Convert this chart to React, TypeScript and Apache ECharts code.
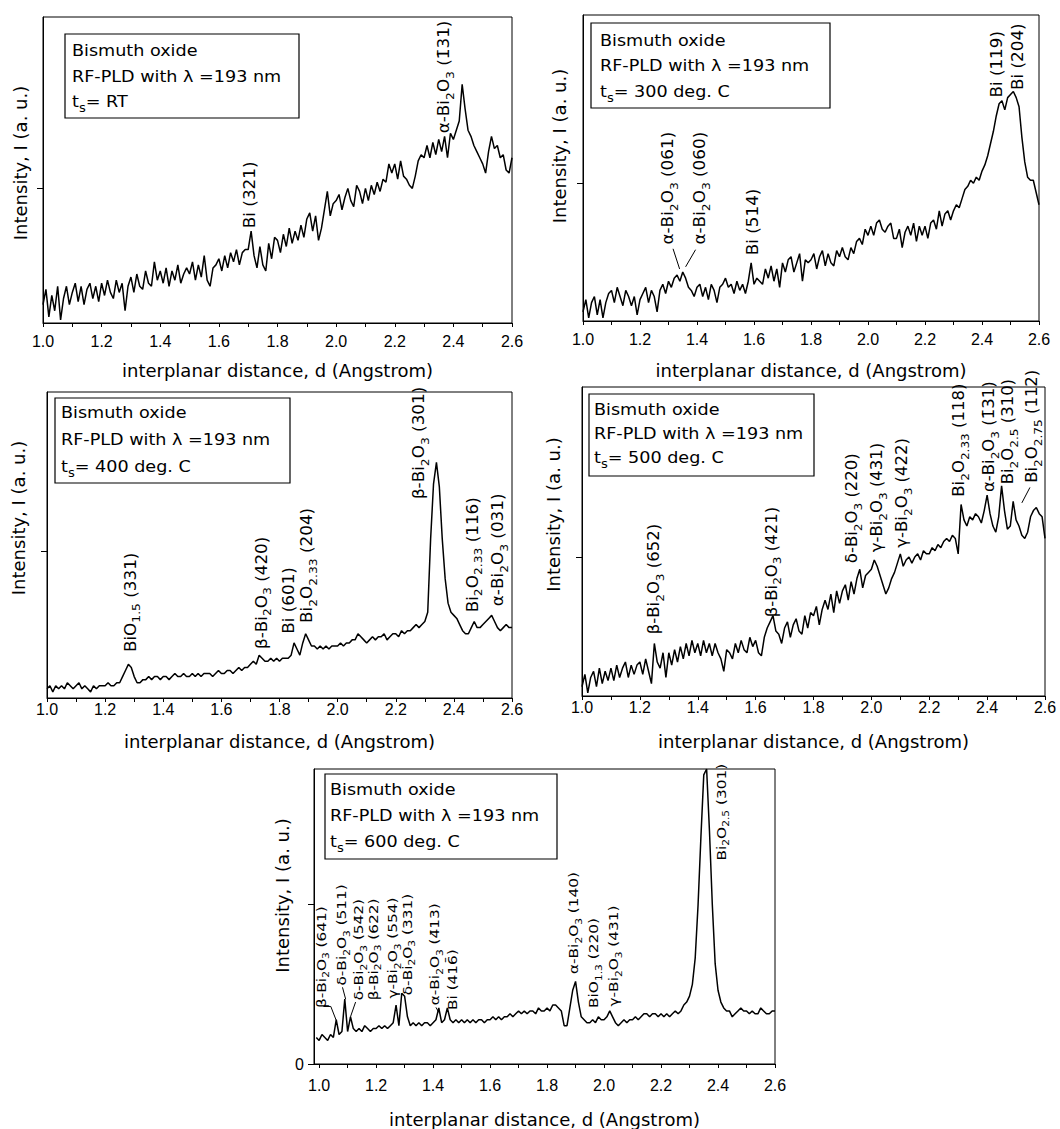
import React, { useEffect, useRef } from 'react';
import * as echarts from 'echarts';

// ---------------- data ----------------
const dStart = 1.0;
const dStartP5 = 0.99;
const dStep = 0.01;

const xTicks = [1.0, 1.1, 1.2, 1.3, 1.4, 1.5, 1.6, 1.7, 1.8, 1.9, 2.0, 2.1, 2.2, 2.3, 2.4, 2.5, 2.6];
const xTickLabels = [1.0, 1.2, 1.4, 1.6, 1.8, 2.0, 2.2, 2.4, 2.6];

// ts = RT, d = 1.00 ... 2.60 step 0.01
const intensityRT = [
  6, 11, 2, 9, 4, 12, 1, 8, 12, 6,
  10, 13, 7, 12, 6, 11, 13, 8, 12, 7,
  13, 9, 14, 10, 8, 14, 10, 13, 4, 12,
  15, 10, 16, 12, 11, 17, 13, 12, 20, 14,
  17, 13, 18, 12, 17, 14, 19, 13, 16, 18,
  16, 20, 14, 19, 15, 22, 14, 12, 18, 19,
  21, 17, 22, 18, 23, 20, 24, 19, 23, 24,
  24, 30, 22, 18, 25, 19, 17, 26, 21, 28,
  27, 23, 29, 25, 31, 26, 30, 27, 32, 28,
  34, 36, 30, 35, 27, 31, 37, 43, 35, 39,
  40, 42, 37, 41, 44, 40, 38, 45, 43, 39,
  44, 40, 45, 42, 46, 43, 47, 46, 52, 49,
  52, 47, 53, 48, 47, 45, 44, 48, 53, 55,
  54, 58, 54, 59, 55, 60, 56, 61, 54, 62,
  60, 63, 66, 78, 70, 63, 61, 58, 56, 54,
  52, 49, 56, 61, 57, 58, 54, 55, 50, 49, 54,
];

// ts = 300 C
const intensity300 = [
  3, 7, 1, 6, 8, 2, 7, 1, 6, 9,
  10, 6, 11, 8, 5, 10, 8, 5, 8, 2,
  7, 9, 11, 6, 10, 8, 3, 10, 12, 9,
  13, 11, 14, 15, 13, 16, 14, 11, 10, 8,
  11, 12, 8, 11, 7, 12, 10, 6, 11, 12,
  14, 11, 12, 9, 13, 10, 12, 9, 13, 19,
  12, 14, 13, 12, 17, 14, 18, 13, 17, 11,
  19, 16, 20, 21, 16, 19, 22, 13, 20, 19,
  20, 22, 17, 21, 23, 18, 22, 19, 18, 23,
  21, 24, 21, 20, 24, 22, 26, 27, 25, 30,
  28, 31, 28, 32, 33, 30, 29, 31, 32, 27,
  27, 30, 24, 29, 31, 28, 32, 26, 31, 28,
  31, 27, 32, 33, 30, 36, 31, 35, 36, 33,
  36, 38, 37, 40, 43, 44, 46, 45, 47, 46,
  49, 51, 54, 58, 62, 67, 71, 72, 69, 73,
  74, 75, 73, 70, 60, 52, 47, 46, 46, 42, 38,
];

// ts = 400 C
const intensity400 = [
  3, 4, 2, 4, 3, 4, 3, 5, 4, 3,
  4, 5, 3, 4, 3, 2, 4, 3, 4, 4,
  4, 5, 4, 4, 5, 5, 7, 9, 11, 10,
  7, 5, 5, 6, 6, 7, 6, 7, 7, 6,
  7, 7, 6, 7, 8, 7, 7, 8, 7, 7,
  8, 7, 8, 7, 8, 8, 8, 7, 8, 9,
  8, 8, 9, 9, 8, 9, 10, 9, 10, 10,
  11, 12, 11, 14, 13, 12, 12, 13, 12, 13,
  12, 13, 13, 13, 14, 18, 16, 14, 18, 21,
  19, 17, 17, 16, 17, 16, 17, 16, 17, 17,
  17, 18, 17, 18, 18, 19, 19, 21, 20, 19,
  18, 19, 20, 19, 20, 20, 21, 19, 20, 21,
  21, 20, 22, 21, 22, 22, 23, 24, 23, 24,
  25, 28, 52, 70, 77, 69, 52, 39, 31, 28,
  27, 26, 24, 22, 21, 21, 23, 25, 23, 23,
  24, 25, 26, 27, 25, 23, 22, 23, 24, 23, 23,
];

// ts = 500 C
const intensity500 = [
  3, 7, 1, 6, 8, 3, 9, 4, 8, 5,
  9, 5, 10, 6, 9, 11, 6, 10, 7, 10,
  11, 7, 12, 8, 4, 17, 11, 9, 14, 6,
  14, 10, 15, 11, 16, 12, 17, 13, 18, 14,
  17, 13, 18, 14, 17, 13, 17, 14, 12, 8,
  15, 14, 12, 17, 14, 18, 15, 14, 19, 16,
  18, 14, 13, 19, 22, 24, 26, 21, 20, 17,
  22, 24, 19, 23, 25, 21, 20, 26, 22, 27,
  26, 29, 23, 28, 31, 28, 33, 27, 34, 30,
  34, 36, 31, 37, 33, 38, 41, 35, 39, 40,
  41, 44, 42, 39, 36, 33, 35, 38, 40, 43,
  46, 42, 44, 45, 43, 45, 46, 44, 47, 46,
  46, 48, 47, 49, 48, 50, 51, 50, 52, 51,
  46, 62, 57, 55, 58, 57, 59, 58, 56, 60,
  65, 59, 55, 53, 58, 68, 60, 54, 55, 63,
  57, 55, 52, 51, 53, 58, 60, 61, 59, 58, 51,
];

// ts = 600 C, d = 0.99 ... 2.60
const intensity600 = [
  9,
  8, 10, 9, 8, 10, 9, 15, 10, 11, 22,
  11, 16, 12, 11, 12, 11, 13, 12, 11, 12,
  12, 13, 12, 13, 12, 13, 14, 20, 13, 24,
  23, 16, 13, 14, 13, 14, 13, 14, 14, 13,
  14, 15, 19, 14, 15, 19, 15, 14, 15, 14,
  15, 14, 15, 14, 15, 14, 15, 15, 14, 15,
  15, 16, 15, 16, 15, 16, 16, 17, 16, 17,
  18, 17, 18, 17, 18, 18, 17, 19, 18, 18,
  19, 18, 20, 20, 19, 18, 13, 13, 19, 25,
  28, 21, 16, 15, 14, 14, 15, 14, 16, 15,
  15, 16, 18, 16, 14, 13, 14, 15, 14, 15,
  15, 16, 15, 16, 17, 17, 16, 17, 17, 16,
  17, 16, 17, 16, 17, 18, 17, 18, 20, 21,
  23, 27, 36, 54, 77, 98, 100, 79, 54, 34,
  25, 21, 19, 18, 18, 16, 17, 18, 19, 18,
  18, 17, 18, 17, 17, 19, 18, 17, 17, 18, 18,
];

// peak labels: [d, intensity at label foot, text]; "_{..}" marks subscripts
const labelsRT: [number, number, string][] = [
  [1.705, 31, 'Bi (321)'],
  [2.368, 62, 'α-Bi_{2}O_{3} (1\u030431)'],
];
const labels300: [number, number, string][] = [
  [1.298, 25, 'α-Bi_{2}O_{3} (061)'],
  [1.41, 25, 'α-Bi_{2}O_{3} (060)'],
  [1.596, 21.5, 'Bi (514)'],
  [2.452, 73, 'Bi (119)'],
  [2.527, 75.5, 'Bi (204)'],
];
const labels400: [number, number, string][] = [
  [1.288, 15, 'BiO_{1.5} (331)'],
  [1.738, 16, 'β-Bi_{2}O_{3} (420)'],
  [1.831, 21, 'Bi (601)'],
  [1.894, 24.5, 'Bi_{2}O_{2.33} (204)'],
  [2.28, 65, 'β-Bi_{2}O_{3} (301)'],
  [2.464, 28, 'Bi_{2}O_{2.33} (116)'],
  [2.552, 30, 'α-Bi_{2}O_{3} (031)'],
];
const labels500: [number, number, string][] = [
  [1.249, 20, 'β-Bi_{2}O_{3} (652)'],
  [1.655, 25.5, 'β-Bi_{2}O_{3} (421)'],
  [1.933, 43, 'δ-Bi_{2}O_{3} (220)'],
  [2.02, 46.5, 'γ-Bi_{2}O_{3} (431)'],
  [2.105, 48, 'γ-Bi_{2}O_{3} (422)'],
  [2.302, 64.5, 'Bi_{2}O_{2.33} (118)'],
  [2.407, 66, 'α-Bi_{2}O_{3} (1\u030431)'],
  [2.472, 68.5, 'Bi_{2}O_{2.5} (310)'],
  [2.555, 69, 'Bi_{2}O_{2.75} (112)'],
];
const labels600: [number, number, string][] = [
  [1.007, 19, 'β-Bi_{2}O_{3} (641)'],
  [1.08, 26.6, 'δ-Bi_{2}O_{3} (511)'],
  [1.138, 21.6, 'δ-Bi_{2}O_{3} (54\u03042)'],
  [1.19, 21.6, 'β-Bi_{2}O_{3} (622)'],
  [1.258, 22.2, 'γ-Bi_{2}O_{3} (554)'],
  [1.309, 23.3, 'δ-Bi_{2}O_{3} (331)'],
  [1.405, 19.9, 'α-Bi_{2}O_{3} (4\u030413)'],
  [1.467, 18.3, 'Bi (416\u0304)'],
  [1.893, 30.5, 'α-Bi_{2}O_{3} (140)'],
  [1.964, 19, 'BiO_{1.3} (220)'],
  [2.034, 19.5, 'γ-Bi_{2}O_{3} (431)'],
  [2.411, 69, 'Bi_{2}O_{2.5} (301)'],
];

// leader lines from labels to peaks, in data coordinates
const leaders300: [number, number][][] = [
  [[1.316, 23.6], [1.339, 17]],
  [[1.395, 23.3], [1.36, 17.7]],
];
const leaders500: [number, number][][] = [
  [[2.548, 67.5], [2.52, 62.5]],
];
const leaders600: [number, number][][] = [
  [[1.015, 19.5], [1.041, 19.5], [1.06, 14.8]],
  [[1.082, 26], [1.093, 22]],
  [[1.128, 21], [1.11, 16]],
  [[1.41, 19.2], [1.42, 17.5]],
];

const legendRT = ['Bismuth oxide', 'RF-PLD with λ =193 nm', 't_{s}= RT'];
const legend300 = ['Bismuth oxide', 'RF-PLD with λ =193 nm', 't_{s}= 300 deg. C'];
const legend400 = ['Bismuth oxide', 'RF-PLD with λ =193 nm', 't_{s}= 400 deg. C'];
const legend500 = ['Bismuth oxide', 'RF-PLD with λ =193 nm', 't_{s}= 500 deg. C'];
const legend600 = ['Bismuth oxide', 'RF-PLD with λ =193 nm', 't_{s}= 600 deg. C'];

const xName = 'interplanar distance, d (Angstrom)';
const yName = 'Intensity, I (a. u.)';

// ---------------- layout ----------------
const FONT = 'DejaVu Sans';
const TICKFONT = 'Liberation Sans';

type Panel = {
  values: number[];
  start: number;
  grid: [number, number, number, number];
  xMin: number;
  yTicks: number[];
  yLabels: number[];
  xNameGap: number;
  yNameGap: number;
  yNameShift: number;
  labelMargin: number;
  labels: [number, number, string][];
  leaders: [number, number][][];
  labelSize: number;
  labelStretch: number;
  legend: string[];
  legendBox: [number, number, number, number];
  legendX: number;
  legendYs: number[];
};

const panels: Panel[] = [
  {
    values: intensityRT, start: dStart, grid: [43, 17, 469, 306], xMin: 1.0,
    yTicks: [44], yLabels: [], xNameGap: 38, yNameGap: 14, yNameShift: 7, labelMargin: 10,
    labels: labelsRT, leaders: [], labelSize: 15, labelStretch: 1.12,
    legend: legendRT, legendBox: [65, 34, 234, 84], legendX: 72, legendYs: [50, 76, 101],
  },
  {
    values: intensity300, start: dStart, grid: [583, 15, 456, 306], xMin: 1.0,
    yTicks: [45], yLabels: [], xNameGap: 40, yNameGap: 15, yNameShift: 22, labelMargin: 10,
    labels: labels300, leaders: leaders300, labelSize: 15, labelStretch: 1.12,
    legend: legend300, legendBox: [591, 23, 239, 85], legendX: 600, legendYs: [40, 65, 91],
  },
  {
    values: intensity400, start: dStart, grid: [47, 392, 465, 306], xMin: 1.0,
    yTicks: [48], yLabels: [], xNameGap: 34, yNameGap: 20, yNameShift: 27, labelMargin: 3,
    labels: labels400, leaders: [], labelSize: 15, labelStretch: 1.12,
    legend: legend400, legendBox: [55, 398, 235, 85], legendX: 61, legendYs: [412, 439, 466],
  },
  {
    values: intensity500, start: dStart, grid: [582, 387, 463, 309], xMin: 1.0,
    yTicks: [45], yLabels: [], xNameGap: 36, yNameGap: 20, yNameShift: 27, labelMargin: 3,
    labels: labels500, leaders: leaders500, labelSize: 15, labelStretch: 1.1,
    legend: legend500, legendBox: [589, 394, 225, 82], legendX: 594, legendYs: [409, 433, 457],
  },
  {
    values: intensity600, start: dStartP5, grid: [314, 769, 461, 302], xMin: 0.982,
    yTicks: [0, 54], yLabels: [0], xNameGap: 46, yNameGap: 18, yNameShift: 21, labelMargin: 13,
    labels: labels600, leaders: leaders600, labelSize: 13, labelStretch: 1.18,
    legend: legend600, legendBox: [325, 774, 232, 85], legendX: 330, legendYs: [789, 815, 841],
  },
];

function toRich(s: string) {
  return s.replace(/_\{([^}]*)\}/g, (_m, t) => `{s|${t}}`);
}

function subRich(size: number) {
  return {
    s: {
      fontSize: Math.round(size * 0.72),
      fontFamily: FONT,
      fill: '#000',
      padding: [Math.round(size * 0.8), 0, 0, 0],
    },
  };
}

function buildOption() {
  return {
    animation: false,
    backgroundColor: '#fff',
    grid: panels.map((p) => ({
      left: p.grid[0], top: p.grid[1], width: p.grid[2], height: p.grid[3],
      show: true, borderColor: '#000', borderWidth: 1, backgroundColor: 'transparent',
    })),
    xAxis: panels.map((p, i) => ({
      type: 'value', gridIndex: i, min: p.xMin, max: 2.6,
      name: xName, nameLocation: 'middle', nameGap: p.xNameGap,
      nameTextStyle: { fontFamily: FONT, fontSize: 18, color: '#000' },
      axisLine: { show: true, onZero: false, lineStyle: { color: '#000', width: 1 } },
      axisTick: { show: true, inside: false, length: 4, customValues: xTicks, lineStyle: { color: '#000' } },
      axisLabel: {
        show: true, customValues: xTickLabels, formatter: (v: number) => v.toFixed(1),
        fontFamily: TICKFONT, fontSize: 16, color: '#000', margin: p.labelMargin,
      },
      splitLine: { show: false },
    })),
    yAxis: panels.map((p, i) => ({
      type: 'value', gridIndex: i, min: 0, max: 100,
      name: yName, nameLocation: 'middle', nameGap: p.yNameGap, nameRotate: 90,
      nameTextStyle: { fontFamily: FONT, fontSize: 18, color: '#000', padding: [0, 0, 0, p.yNameShift * 2] },
      axisLine: { show: true, onZero: false, lineStyle: { color: '#000', width: 1 } },
      axisTick: { show: true, inside: false, length: 6, customValues: p.yTicks, lineStyle: { color: '#000' } },
      axisLabel: {
        show: p.yLabels.length > 0, customValues: p.yLabels,
        fontFamily: TICKFONT, fontSize: 16, color: '#000', margin: 10,
      },
      splitLine: { show: false },
    })),
    series: panels.map((p, i) => ({
      type: 'line', xAxisIndex: i, yAxisIndex: i,
      data: p.values.map((v, k) => [+(p.start + k * dStep).toFixed(2), v]),
      showSymbol: false, symbol: 'none', silent: true, clip: true,
      lineStyle: { color: '#000', width: 1.5 },
    })),
  };
}

function buildGraphics(chart: echarts.ECharts) {
  const out: any[] = [];
  panels.forEach((p, i) => {
    // legend box
    const [bx, by, bw, bh] = p.legendBox;
    out.push({
      type: 'rect', z: 10,
      shape: { x: bx, y: by, width: bw, height: bh },
      style: { fill: '#fff', stroke: '#000', lineWidth: 1.2 },
    });
    p.legend.forEach((line, k) => {
      out.push({
        type: 'text', z: 11, x: p.legendX, y: p.legendYs[k], scaleX: 1.1,
        style: {
          text: toRich(line), rich: subRich(16), fontFamily: FONT, fontSize: 16, fill: '#000',
          align: 'left', verticalAlign: 'middle', textAlign: 'left', textVerticalAlign: 'middle',
        },
      });
    });
    // peak labels
    p.labels.forEach(([d, v, t]) => {
      const pt = chart.convertToPixel({ gridIndex: i } as any, [d, v]) as number[];
      out.push({
        type: 'text', z: 5, x: pt[0], y: pt[1], rotation: Math.PI / 2, scaleX: p.labelStretch,
        style: {
          text: toRich(t), rich: subRich(p.labelSize), fontFamily: FONT, fontSize: p.labelSize, fill: '#000',
          align: 'left', verticalAlign: 'middle', textAlign: 'left', textVerticalAlign: 'middle',
        },
      });
    });
    // leader lines
    p.leaders.forEach((pts) => {
      const px = pts.map((q) => chart.convertToPixel({ gridIndex: i } as any, q) as number[]);
      out.push({
        type: 'polyline', z: 5,
        shape: { points: px },
        style: { stroke: '#000', lineWidth: 1, fill: null },
      });
    });
  });
  return out;
}

export default function App() {
  const ref = useRef<HTMLDivElement>(null);
  useEffect(() => {
    const el = ref.current;
    if (!el) return;
    const chart = echarts.init(el, null, { renderer: 'svg' });
    chart.setOption(buildOption() as any);
    chart.setOption({ graphic: buildGraphics(chart) } as any);
    return () => chart.dispose();
  }, []);
  return (
    <div
      ref={ref}
      style={{ position: 'absolute', left: 0, top: 0, width: 1060, height: 1129, background: '#fff' }}
    />
  );
}
